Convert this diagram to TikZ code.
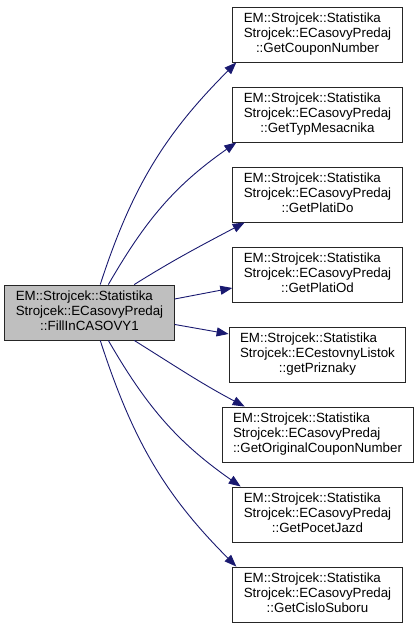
\documentclass[tikz,border=0pt]{standalone}
\usepackage{fontspec}
\setmainfont{Liberation Sans}
\usetikzlibrary{arrows.meta}
\definecolor{callblue}{HTML}{191970}
\newcommand{\member}[3]{\begin{tabular}{@{}l@{}}#1\\#2\\\multicolumn{1}{@{}c@{}}{#3}\end{tabular}}

\begin{document}
\begin{tikzpicture}[x=1pt,y=1pt,line width=0.9pt]
    %
    % `func' is used for the called members (white boxes).
    % `caller' is the member the graph is drawn for (grey box).
    % `call' is used for the arrows.
    \tikzstyle{func} = [draw=black!85,fill=white,inner xsep=11pt,inner ysep=0pt,minimum height=55pt,font=\fontsize{13.33}{15}\selectfont]
    \tikzstyle{caller} = [func,fill=black!25]
    \tikzstyle{call} = [draw=callblue,-{Triangle[length=12pt,width=9pt]}]
    \useasboundingbox (0,0) rectangle (415,627);
    %
    % Caller
    \node[caller] (fill) at (89.5,314.5) {\member{EM::Strojcek::Statistika}{Strojcek::ECasovyPredaj}{::FillInCASOVY1}};
    %
    % Callees
    \node[func] (coupon) at (317.5,592.5) {\member{EM::Strojcek::Statistika}{Strojcek::ECasovyPredaj}{::GetCouponNumber}};
    \node[func] (typ) at (317.5,512.5) {\member{EM::Strojcek::Statistika}{Strojcek::ECasovyPredaj}{::GetTypMesacnika}};
    \node[func] (platido) at (317.5,432.5) {\member{EM::Strojcek::Statistika}{Strojcek::ECasovyPredaj}{::GetPlatiDo}};
    \node[func] (platiod) at (317.5,352.5) {\member{EM::Strojcek::Statistika}{Strojcek::ECasovyPredaj}{::GetPlatiOd}};
    \node[func] (priznaky) at (317.5,272.5) {\member{EM::Strojcek::Statistika}{Strojcek::ECestovnyListok}{::getPriznaky}};
    \node[func] (original) at (317.5,192.5) {\member{EM::Strojcek::Statistika}{Strojcek::ECasovyPredaj}{::GetOriginalCouponNumber}};
    \node[func] (pocet) at (317.5,112.5) {\member{EM::Strojcek::Statistika}{Strojcek::ECasovyPredaj}{::GetPocetJazd}};
    \node[func] (cislo) at (317.5,32.5) {\member{EM::Strojcek::Statistika}{Strojcek::ECasovyPredaj}{::GetCisloSuboru}};
    %
    % Calls
    \draw[call] (fill.69) to[out=72,in=-135] (coupon.199);
    \draw[call] (fill.56) to[out=60,in=-145] (typ.199);
    \draw[call] (fill.32) to[out=32,in=-152] (platido.201);
    \draw[call] (fill.9.6) -- (platiod.189);
    \draw[call] (fill.-8.3) -- (priznaky.167);
    \draw[call] (fill.-32) to[out=-32,in=152] (original.159);
    \draw[call] (fill.-56) to[out=-60,in=145] (pocet.160);
    \draw[call] (fill.-69) to[out=-72,in=135] (cislo.161);
    %
\end{tikzpicture}
\end{document}
